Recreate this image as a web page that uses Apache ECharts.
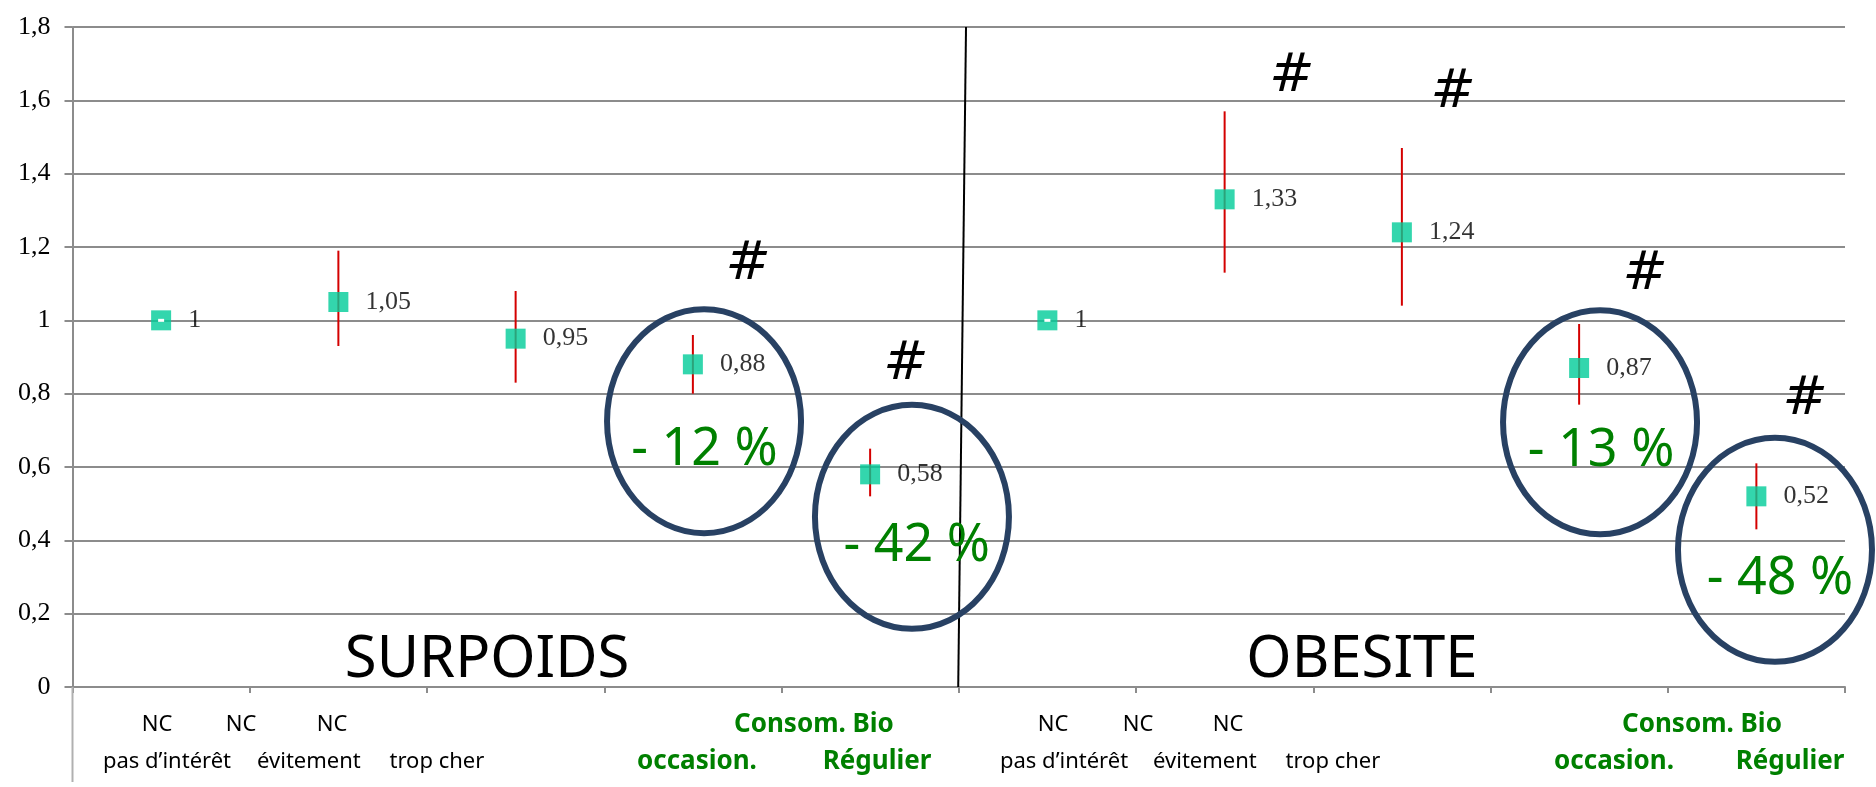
<!DOCTYPE html>
<html>
<head>
<meta charset="utf-8">
<script src="https://cdn.jsdelivr.net/npm/echarts@6/dist/echarts.min.js"></script>
<style>
  html, body { margin: 0; padding: 0; background: #fff; }
  #chart { width: 1876px; height: 787px; }
</style>
</head>
<body>
<div id="chart"></div>
<script>
// Odds ratios (with 95 % CI) of overweight and obesity by organic-food consumption profile
const groups = ['SURPOIDS', 'OBESITE'];
const profiles = ['NC pas d’intérêt', 'NC évitement', 'NC trop cher', 'Consom. Bio occasion.', 'Consom. Bio Régulier'];

const orSurpoids     = [1, 1.05, 0.95, 0.88, 0.58];
const ciLowSurpoids  = [null, 0.93, 0.83, 0.80, 0.52];
const ciHighSurpoids = [null, 1.19, 1.08, 0.96, 0.65];

const orObesite      = [1, 1.33, 1.24, 0.87, 0.52];
const ciLowObesite   = [null, 1.13, 1.04, 0.77, 0.43];
const ciHighObesite  = [null, 1.57, 1.47, 0.99, 0.61];

// significant differences (#) and circled reductions, by profile index
const signifSurpoids = [3, 4];
const signifObesite  = [1, 2, 3, 4];
const circledSurpoids = [3, 4];
const circledObesite  = [3, 4];

// axis ticks
const yMin = 0, yMax = 1.8, yStep = 0.2;

// labels under the axis: [text, row, x in category units]
const axisTextsBlack = [
  ['NC', 0, 0.477], ['NC', 0, 0.951], ['NC', 0, 1.464],
  ['pas d’intérêt', 1, 0.533], ['évitement', 1, 1.334], ['trop cher', 1, 2.056]
];
const axisTextsGreen = [
  ['Consom. Bio', 0, 4.183], ['occasion.', 1, 3.523], ['Régulier', 1, 4.539]
];
const axisTextsGreenObesite = [
  ['Consom. Bio', 0, 9.193], ['occasion.', 1, 8.697], ['Régulier', 1, 9.690]
];
const axisTextsBlackObesite = [
  ['NC', 0, 5.532], ['NC', 0, 6.012], ['NC', 0, 6.519],
  ['pas d’intérêt', 1, 5.594], ['évitement', 1, 6.389], ['trop cher', 1, 7.111]
];

// ---------- layout of the annotations (x in category units 0..10, y in axis units) ----------
const layout = {
  titles: [[2.339, 0.071], [7.275, 0.071]],
  hashes: {
    SURPOIDS: { 3: [3.811, 1.151], 4: [4.702, 0.878] },
    OBESITE:  { 1: [6.880, 1.663], 2: [7.789, 1.620], 3: [8.872, 1.124], 4: [9.775, 0.783] }
  },
  ellipses: {
    SURPOIDS: { 3: [3.563, 0.725], 4: [4.736, 0.464] },
    OBESITE:  { 3: [8.618, 0.722], 4: [9.605, 0.374] }
  },
  percents: {
    SURPOIDS: { 3: [3.566, 0.646], 4: [4.763, 0.383] },
    OBESITE:  { 3: [8.624, 0.644], 4: [9.633, 0.295] }
  },
  divider: [[5.041, 1.8], [4.997, 0]],
  ellipseRx: 97, ellipseRy: 112,
  rowOffsets: [38, 75]
};

const commaFmt = v => String(Number(v.toFixed(2))).replace('.', ',');
const pctText = v => '- ' + Math.round((1 - v) * 100) + ' %';

const categories = [];
groups.forEach(g => profiles.forEach(p => categories.push(g + ' | ' + p)));

const groupData = [
  { name: 'SURPOIDS', or: orSurpoids, lo: ciLowSurpoids, hi: ciHighSurpoids, signif: signifSurpoids, circled: circledSurpoids },
  { name: 'OBESITE',  or: orObesite,  lo: ciLowObesite,  hi: ciHighObesite,  signif: signifObesite,  circled: circledObesite }
];

const pointData = [], errorData = [], refData = [];
groupData.forEach((g, gi) => {
  g.or.forEach((v, i) => {
    const c = gi * profiles.length + i;
    pointData.push([c, v]);
    if (g.lo[i] == null) refData.push([c, v]);
    else errorData.push([c, g.lo[i], g.hi[i]]);
  });
});

const HAND = '"Noto Sans", "DejaVu Sans", sans-serif';
const SERIF = '"Liberation Serif", "Times New Roman", serif';

function renderAnnotations(params, api) {
  const children = [];
  // divider between the two panels
  const d0 = api.coord(layout.divider[0]), d1 = api.coord(layout.divider[1]);
  children.push({ type: 'line', shape: { x1: d0[0], y1: d0[1], x2: d1[0], y2: d1[1] },
    style: { stroke: '#000', lineWidth: 2 } });

  // lower part of the value axis, through the label band
  const o = api.coord([0, 0]);
  children.push({ type: 'line', shape: { x1: o[0], y1: o[1], x2: o[0], y2: o[1] + 95 },
    style: { stroke: '#b0b0b0', lineWidth: 2 } });

  // panel titles
  groups.forEach((name, gi) => {
    const p = api.coord(layout.titles[gi]);
    children.push({ type: 'text', style: { text: name, x: p[0], y: p[1], align: 'center', verticalAlign: 'middle',
      font: 'normal 58px ' + HAND, fill: '#000' } });
  });

  groupData.forEach(g => {
    g.signif.forEach(i => {
      const p = api.coord(layout.hashes[g.name][i]);
      children.push({ type: 'text', style: { text: '#', x: p[0], y: p[1], align: 'center', verticalAlign: 'middle',
        font: 'italic normal 54px "DejaVu Sans", sans-serif', fill: '#000' } });
    });
    g.circled.forEach(i => {
      const e = api.coord(layout.ellipses[g.name][i]);
      children.push({ type: 'ellipse', shape: { cx: e[0], cy: e[1], rx: layout.ellipseRx, ry: layout.ellipseRy },
        style: { fill: 'none', stroke: '#284163', lineWidth: 6 }, z2: 5 });
      const t = api.coord(layout.percents[g.name][i]);
      children.push({ type: 'text', style: { text: pctText(g.or[i]), x: t[0], y: t[1], align: 'center', verticalAlign: 'middle',
        font: 'normal 52px ' + HAND, fill: '#008000' }, z2: 6 });
    });
  });

  // category texts under the axis
  const addTexts = (list, font, color) => list.forEach(([txt, row, x]) => {
    const p = api.coord([x, 0]);
    children.push({ type: 'text', style: { text: txt, x: p[0], y: p[1] + layout.rowOffsets[row],
      align: 'center', verticalAlign: 'middle', font: font, fill: color } });
  });
  const black = 'normal 22px "Noto Sans", sans-serif';
  const green = 'bold 26px "Noto Sans", sans-serif';
  addTexts(axisTextsBlack, black, '#000');
  addTexts(axisTextsBlackObesite, black, '#000');
  addTexts(axisTextsGreen, green, '#008000');
  addTexts(axisTextsGreenObesite, green, '#008000');

  return { type: 'group', children: children };
}

const chart = echarts.init(document.getElementById('chart'));
chart.setOption({
  animation: false,
  backgroundColor: '#fff',
  grid: { left: 72.5, right: 31, top: 27, bottom: 100, containLabel: false },
  xAxis: [
    {
      type: 'category', data: categories, boundaryGap: true,
      axisLine: { lineStyle: { color: '#8c8c8c', width: 2 } },
      axisTick: { show: true, interval: 0, length: 6, alignWithLabel: false, lineStyle: { color: '#8c8c8c', width: 2 } },
      axisLabel: { show: false, interval: 0 },
      splitLine: { show: false }
    },
    { type: 'value', min: 0, max: categories.length, show: false }
  ],
  yAxis: {
    type: 'value', min: yMin, max: yMax, interval: yStep,
    axisLine: { show: true, lineStyle: { color: '#8c8c8c', width: 2 } },
    axisTick: { show: true, length: 8, lineStyle: { color: '#8c8c8c', width: 2 } },
    axisLabel: { margin: 22, fontSize: 26, fontFamily: SERIF, color: '#000',
      formatter: v => String(Number(v.toFixed(1))).replace('.', ',') },
    splitLine: { lineStyle: { color: '#8c8c8c', width: 2 } }
  },
  series: [
    {
      name: 'IC 95 %', type: 'custom', xAxisIndex: 0, z: 2,
      data: errorData,
      renderItem: (params, api) => {
        const a = api.coord([api.value(0), api.value(1)]);
        const b = api.coord([api.value(0), api.value(2)]);
        return { type: 'line', shape: { x1: a[0], y1: a[1], x2: b[0], y2: b[1] },
          style: { stroke: '#d40000', lineWidth: 2 } };
      }
    },
    {
      name: 'OR', type: 'scatter', xAxisIndex: 0, z: 3,
      data: pointData, symbol: 'rect', symbolSize: 20,
      itemStyle: { color: '#00cc99' },
      label: { show: true, position: 'right', distance: 17, fontSize: 26, fontFamily: SERIF, color: '#000',
        formatter: p => commaFmt(p.value[1]) }
    },
    {
      name: 'Référence', type: 'custom', xAxisIndex: 0, z: 4,
      data: refData,
      renderItem: (params, api) => {
        const p = api.coord([api.value(0), api.value(1)]);
        return { type: 'rect', shape: { x: p[0] - 3, y: p[1] - 1.5, width: 6, height: 3 }, style: { fill: '#fff' } };
      }
    },
    {
      name: 'Annotations', type: 'custom', xAxisIndex: 1, z: 5, clip: false, silent: true,
      data: [[0, 0]],
      renderItem: renderAnnotations
    }
  ]
});
</script>
</body>
</html>
